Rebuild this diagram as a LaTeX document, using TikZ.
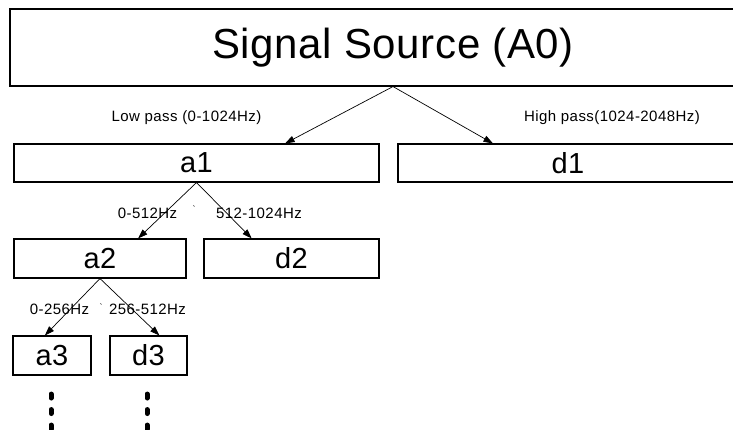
\documentclass[tikz,border=0pt]{standalone}
\usepackage{fontspec}
\newfontfamily\titlefont[LetterSpace=1.5]{Liberation Sans}
\newfontfamily\bandfont[LetterSpace=1]{Liberation Sans}
\newfontfamily\labelfont[LetterSpace=3]{Liberation Sans}
\newfontfamily\plainfont{Liberation Sans}
\usetikzlibrary{arrows.meta,calc}

\tikzset{
  blk/.style={draw=black, line width=1.1pt, inner sep=0pt, anchor=center},
  title/.style={blk, font=\titlefont\fontsize{42}{45}\selectfont},
  band/.style={blk, font=\bandfont\fontsize{29}{32}\selectfont},
  lbl/.style={inner sep=0pt, font=\labelfont\fontsize{15}{17}\selectfont},
  tick/.style={inner sep=0pt, font=\plainfont\fontsize{9}{10}\selectfont},
  split/.style={draw=black, line width=0.7pt, -{Triangle[length=9.5pt,width=6.5pt]}},
  more/.style={draw=black, line width=5pt, line cap=round, dash pattern=on 4pt off 11.5pt}
}

\begin{document}
\begin{tikzpicture}[x=1pt, y=-1pt]
  \useasboundingbox (0,0) rectangle (733,430);

  % level 0
  \node[title, minimum width=766pt, minimum height=77pt] (src) at (393,47.5) {Signal Source (A0)};

  % level 1
  \node[band, minimum width=365pt, minimum height=38pt] (a1) at (196.5,163) {a1};
  \node[band, minimum width=340pt, minimum height=38pt] (d1) at (568,163) {d1};

  % level 2
  \node[band, minimum width=172pt, minimum height=39pt] (a2) at (100,258.5) {a2};
  \node[band, minimum width=175pt, minimum height=39pt] (d2) at (291.5,258.5) {d2};

  % level 3
  \node[band, minimum width=78pt, minimum height=39pt] (a3) at (52,355.5) {a3};
  \node[band, minimum width=77pt, minimum height=39pt] (d3) at (148.5,355.5) {d3};

  % band labels
  \node[lbl] (lp)  at (186.5,118) {Low pass (0-1024Hz)};
  \node[lbl] (hp)  at (612,118) {High pass(1024-2048Hz)};
  \node[lbl] (l2a) at (147.5,213) {0-512Hz};
  \node[lbl] (l2d) at (259,213) {512-1024Hz};
  \node[lbl] (l3a) at (59.5,309) {0-256Hz};
  \node[lbl] (l3d) at (147.5,309) {256-512Hz};
  \node[tick] (t2) at (194,209) {\char96};
  \node[tick] (t3) at (101,307) {\char96};

  % decomposition arrows
  \draw[split] (src.south) -- ($(a1.north west)!0.742!(a1.north east)$);
  \draw[split] (src.south) -- ($(d1.north west)!0.28!(d1.north east)$);
  \draw[split] (a1.south) -- ($(a2.north west)!0.72!(a2.north east)$);
  \draw[split] (a1.south) -- ($(d2.north west)!0.274!(d2.north east)$);
  \draw[split] (a2.south) -- ($(a3.north west)!0.41!(a3.north east)$);
  \draw[split] (a2.south) -- ($(d3.north west)!0.64!(d3.north east)$);

  % continuation dots
  \coordinate (a3end) at (51,445);
  \coordinate (d3end) at (147,445);
  \draw[more] ($(a3.south)+(-1,18.5)$) -- (a3end);
  \draw[more] ($(d3.south)+(-1.5,18.5)$) -- (d3end);
\end{tikzpicture}
\end{document}
